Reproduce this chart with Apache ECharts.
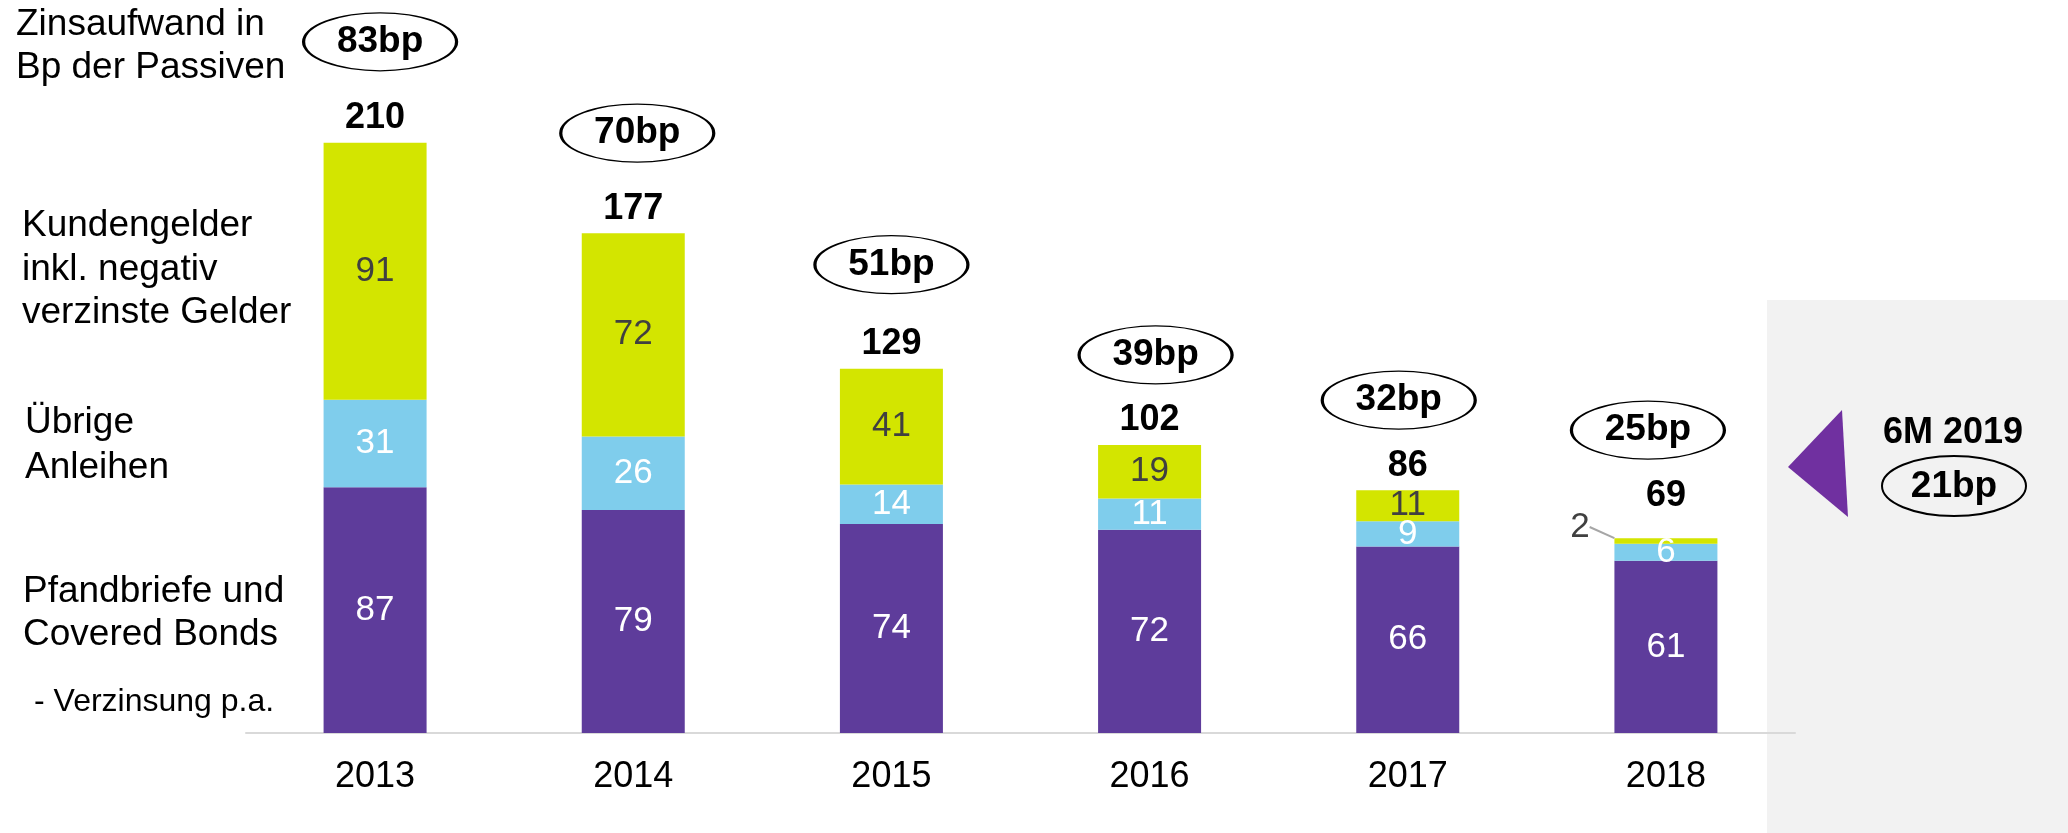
<!DOCTYPE html>
<html>
<head>
<meta charset="utf-8">
<title>Zinsaufwand in Bp der Passiven</title>
<script src="https://cdn.jsdelivr.net/npm/echarts@6/dist/echarts.min.js"></script>
<style>
  html, body { margin: 0; padding: 0; background: #fff; }
  #chart { width: 2068px; height: 833px; }
</style>
</head>
<body>
<div id="chart"></div>
<script>
// Daten (Bp)
var years = ["2013", "2014", "2015", "2016", "2017", "2018"];
var pfandbriefe = [87, 79, 74, 72, 66, 61];
var anleihen = [31, 26, 14, 11, 9, 6];
var kundengelder = [91, 72, 41, 19, 11, 2];
var totals = [210, 177, 129, 102, 86, 69];
var verzinsung = [83, 70, 51, 39, 32, 25];
var verzinsung6M2019 = 21;

var FONT = "Liberation Sans, Arial, sans-serif";

// Stapelhoehe je Jahr (fuer Summen und Ellipsen)
var stackTop = years.map(function (y, i) {
  return pfandbriefe[i] + anleihen[i] + kundengelder[i];
});

var chart = echarts.init(document.getElementById("chart"));

var leftTexts = [
  { t: "Zinsaufwand in", x: 16, y: 25 },
  { t: "Bp der Passiven", x: 16, y: 68 },
  { t: "Kundengelder", x: 22, y: 226 },
  { t: "inkl. negativ", x: 22, y: 270 },
  { t: "verzinste Gelder", x: 22, y: 313 },
  { t: "Übrige", x: 25, y: 423 },
  { t: "Anleihen", x: 25, y: 468 },
  { t: "Pfandbriefe und", x: 23, y: 592 },
  { t: "Covered Bonds", x: 23, y: 635 }
];

var graphics = [
  // grauer Bereich rechts
  { type: "rect", z: -10, silent: true, shape: { x: 1767, y: 300, width: 301, height: 533 }, style: { fill: "#F2F2F2" } },
  { type: "polygon", shape: { points: [[1842, 410], [1788, 467], [1848, 517]] }, style: { fill: "#7030A0" } },
  { type: "text", x: 1953, y: 433, style: { text: "6M 2019", font: "bold 36px " + FONT, fill: "#000", textAlign: "center", textVerticalAlign: "middle" } },
  { type: "ellipse", shape: { cx: 1954, cy: 486, rx: 72, ry: 30 }, style: { fill: "#F2F2F2", stroke: "#000", lineWidth: 2 } },
  { type: "text", x: 1954, y: 487, style: { text: verzinsung6M2019 + "bp", font: "bold 37px " + FONT, fill: "#000", textAlign: "center", textVerticalAlign: "middle" } },
  { type: "text", x: 34, y: 702, style: { text: "- Verzinsung p.a.", font: "32px " + FONT, fill: "#000", textVerticalAlign: "middle" } }
];
leftTexts.forEach(function (l) {
  graphics.push({ type: "text", x: l.x, y: l.y, style: { text: l.t, font: "37px " + FONT, fill: "#000", textVerticalAlign: "middle" } });
});

// Feinpositionierung der Ellipsen ueber den Saeulen (px)
var ellipseShift = [[5, -101], [4, -100], [0, -104], [6, -90], [-9, -90], [-18, -108]];

chart.setOption({
  animation: false,
  textStyle: { fontFamily: FONT },
  grid: { left: 246, right: 273, top: 27, bottom: 100 },
  xAxis: {
    type: "category",
    data: years,
    axisLine: { lineStyle: { color: "#D9D9D9", width: 2 } },
    axisTick: { show: false },
    axisLabel: { fontSize: 36, color: "#000", margin: 26, fontFamily: FONT }
  },
  yAxis: { type: "value", min: 0, max: 250, show: false },
  graphic: graphics,
  series: [
    {
      name: "Pfandbriefe und Covered Bonds",
      type: "bar",
      stack: "bp",
      barWidth: 103,
      itemStyle: { color: "#5E3C9B" },
      label: { show: true, position: "inside", color: "#fff", fontSize: 35, fontFamily: FONT },
      data: pfandbriefe
    },
    {
      name: "Übrige Anleihen",
      type: "bar",
      stack: "bp",
      barWidth: 103,
      itemStyle: { color: "#7FCDEC" },
      label: { show: true, position: "inside", color: "#fff", fontSize: 35, fontFamily: FONT },
      data: anleihen
    },
    {
      name: "Kundengelder",
      type: "bar",
      stack: "bp",
      barWidth: 103,
      itemStyle: { color: "#D3E500" },
      label: { show: true, position: "inside", color: "#404040", fontSize: 35, fontFamily: FONT },
      labelLayout: function (p) {
        if (p.dataIndex === 5) return { dx: -86, dy: -14 };
        return {};
      },
      data: kundengelder.map(function (v, i) {
        if (i === 5) {
          return { value: v, labelLine: { show: true, lineStyle: { color: "#A6A6A6", width: 2 } } };
        }
        return v;
      })
    },
    {
      name: "Summe",
      type: "scatter",
      symbolSize: 1,
      itemStyle: { color: "rgba(0,0,0,0)", opacity: 1 },
      label: {
        show: true, position: "top", distance: 6, color: "#000", opacity: 1,
        fontSize: 36, fontWeight: "bold", fontFamily: FONT,
        formatter: function (p) { return totals[p.dataIndex]; }
      },
      data: stackTop.map(function (v, i) {
        return i === 5 ? { value: v, label: { distance: 24 } } : v;
      })
    },
    {
      name: "Verzinsung",
      type: "scatter",
      symbol: "circle",
      symbolSize: [153, 58],
      itemStyle: { color: "#fff", borderColor: "#000", borderWidth: 2, opacity: 1 },
      label: {
        show: true, position: "inside", color: "#000", opacity: 1,
        fontSize: 37, fontWeight: "bold", fontFamily: FONT,
        formatter: function (p) { return verzinsung[p.dataIndex] + "bp"; }
      },
      data: stackTop.map(function (v, i) {
        return { value: v, symbolOffset: ellipseShift[i] };
      })
    }
  ]
});
</script>
</body>
</html>
